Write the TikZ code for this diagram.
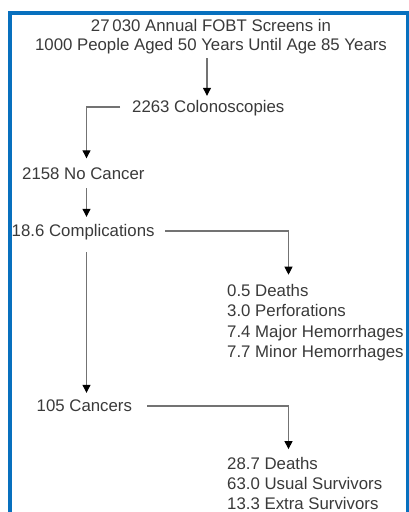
\documentclass[tikz,border=0pt]{standalone}
\usepackage{fontspec}
\setmainfont{Liberation Sans}
\usetikzlibrary{arrows.meta,calc}
\definecolor{frameblue}{RGB}{8,112,190}
\definecolor{txtgray}{RGB}{58,58,58}
\definecolor{linegray}{RGB}{115,115,115}
\begin{document}
\begin{tikzpicture}[x=1pt,y={(0,-1pt)},
  lbl/.style={inner sep=0pt,text=txtgray,font=\fontsize{16.8}{19.5}\selectfont,text height=14pt,text depth=3pt,anchor=base west},
  listbox/.style={inner sep=0pt,text=txtgray,font=\fontsize{16.8}{20.4}\selectfont,align=left,anchor=north west},
  arr/.style={draw=linegray,line width=1.1pt,-{Triangle[width=8pt,length=8pt,color=black,fill=black]}}
]
\useasboundingbox (0,0) rectangle (409,512);
\begin{scope}
\clip (0,0) rectangle (409,512);
\fill[white] (0,0) rectangle (409,512);
\draw[frameblue,line width=3.6pt] (10,530) -- (10,13) -- (407.6,13) -- (407.6,530);
\end{scope}

\node[inner sep=0pt,text=txtgray,font=\fontsize{16.8}{19.3}\selectfont,align=center] (title) at (211,36.8)
  {27\,030 Annual FOBT Screens in\\1000 People Aged 50 Years Until Age 85 Years};
\node[lbl] (colo) at (132,112.5) {2263 Colonoscopies};
\node[lbl] (nocancer) at (22,179) {2158 No Cancer};
\node[lbl] (comp) at (11.5,236.5) {18.6 Complications};
\node[listbox] (complist) at (227,284.2) {0.5 Deaths\\3.0 Perforations\\7.4 Major Hemorrhages\\7.7 Minor Hemorrhages};
\node[lbl] (cancers) at (36.5,411.5) {105 Cancers};
\node[listbox,font=\fontsize{16.8}{20.2}\selectfont] (cancerlist) at (227,456.8) {28.7 Deaths\\63.0 Usual Survivors\\13.3 Extra Survivors};

\coordinate (tx) at (207,0);
\coordinate (lx) at (86.5,0);
\coordinate (rx) at (288.5,0);

\draw[arr,shorten <=4pt,shorten >=2.5pt] (title.south -| tx) -- (colo.north -| tx);
\draw[arr,shorten <=12pt,shorten >=6.5pt] (colo.west) -| (lx |- nocancer.north);
\draw[arr,shorten <=6pt,shorten >=5.5pt] (nocancer.south -| lx) -- (comp.north -| lx);
\draw[arr,shorten <=10.5pt,shorten >=9.5pt] (comp.east) -| (rx |- complist.north);
\draw[arr,shorten <=12.5pt,shorten >=4.5pt] (comp.south -| lx) -- (cancers.north -| lx);
\draw[arr,shorten <=15pt,shorten >=7.7pt] (cancers.east) -| (rx |- cancerlist.north);
\end{tikzpicture}
\end{document}
